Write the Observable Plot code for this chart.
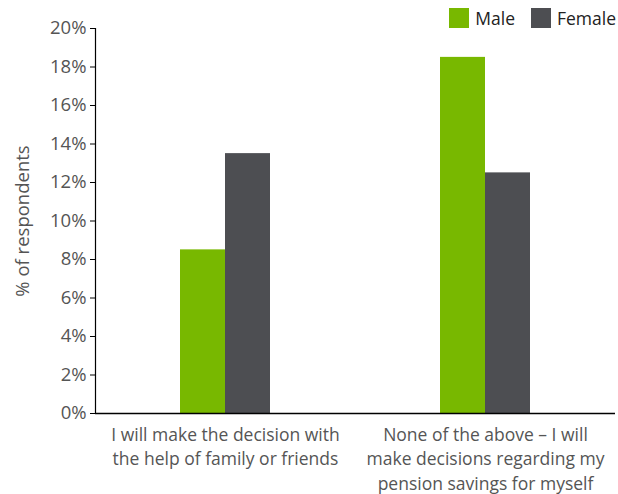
<!DOCTYPE html>
<html>
<head>
<meta charset="utf-8">
<script src="https://cdn.jsdelivr.net/npm/d3@7"></script>
<script src="https://cdn.jsdelivr.net/npm/@observablehq/plot@0.6"></script>
<style>
  html, body { margin: 0; padding: 0; background: #fff; }
  #wrap { position: relative; width: 618px; height: 494px; font-family: "Open Sans", sans-serif; }
  #legend { position: absolute; top: 8px; right: 2px; display: flex; align-items: center; font-size: 17.5px; color: #222; line-height: 20px; }
  #legend .item { display: flex; align-items: center; margin-left: 16px; }
  #legend .sw { width: 20px; height: 20px; margin-right: 6px; }
</style>
</head>
<body>
<div id="wrap"><div id="chart"></div><div id="legend"></div></div>
<script>
const categories = [
  "I will make the decision with\nthe help of family or friends",
  "None of the above – I will\nmake decisions regarding my\npension savings for myself"
];
const seriesNames = ["Male", "Female"];
const maleValues = [8.5, 18.5];
const femaleValues = [13.5, 12.5];
const yTicks = [0, 2, 4, 6, 8, 10, 12, 14, 16, 18, 20];
const colors = ["#78b800", "#4d4e52"];

const data = [];
categories.forEach((c, i) => {
  data.push({category: c, series: "Male", value: maleValues[i]});
  data.push({category: c, series: "Female", value: femaleValues[i]});
});

const chart = Plot.plot({
  width: 618,
  height: 494,
  marginTop: 28,
  marginBottom: 81,
  marginLeft: 94,
  marginRight: 3,
  style: {fontFamily: "Open Sans, sans-serif", fontSize: "16px", color: "#555"},
  fx: {domain: categories, padding: 0},
  x: {domain: seriesNames, paddingInner: 0, paddingOuter: 1.87},
  y: {domain: [0, 20], ticks: yTicks},
  color: {domain: seriesNames, range: colors},
  marks: [
    Plot.axisY({ticks: yTicks, tickSize: 5, tickFormat: d => d + "%", fontSize: 18.5, tickPadding: 4,
      label: "% of respondents", labelAnchor: "center", labelArrow: "none", labelOffset: 80, stroke: "#000", strokeOpacity: 1, color: "#555"}),
    Plot.frame({anchor: "left", facetAnchor: "left", stroke: "#000", strokeWidth: 1.2}),
    Plot.axisFx({anchor: "bottom", tickSize: 0, tickPadding: 10, label: null, lineHeight: 1.4, fontSize: 17.5}),
    Plot.axisX({ticks: [], label: null}),
    Plot.barY(data, {fx: "category", x: "series", y: "value", fill: "series"}),
    Plot.ruleY([0], {stroke: "#000", strokeWidth: 1.5})
  ]
});
document.getElementById("chart").appendChild(chart);

const legend = document.getElementById("legend");
seriesNames.forEach((s, i) => {
  const it = document.createElement("div");
  it.className = "item";
  it.innerHTML = `<span class="sw" style="background:${colors[i]}"></span><span>${s}</span>`;
  legend.appendChild(it);
});
</script>
</body>
</html>
